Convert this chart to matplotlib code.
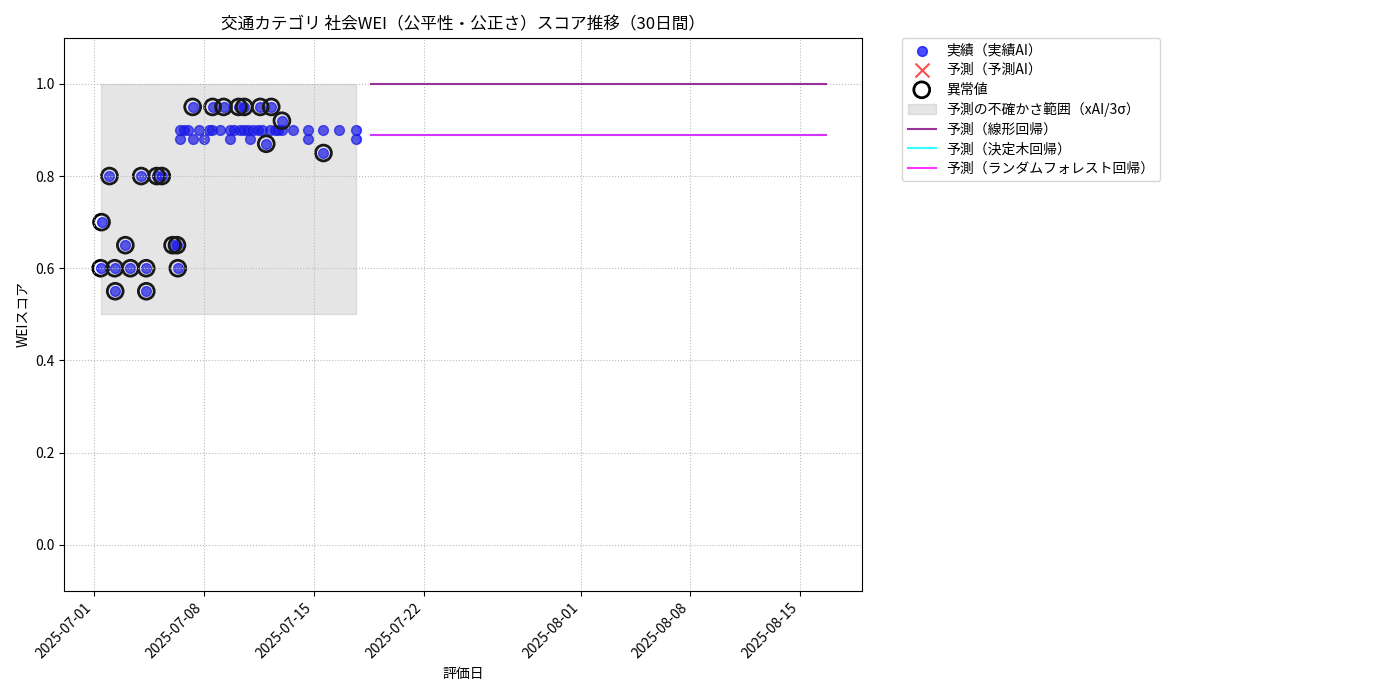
import matplotlib

matplotlib.use("Agg")
import matplotlib.pyplot as plt
import pandas as pd

plt.rcParams["font.family"] = ["Noto Sans CJK JP", "DejaVu Sans"]

# actual scores (actual AI), 1 = flagged as anomaly
actual_dates = [
    "2025-07-01 09:30", "2025-07-01 10:50", "2025-07-01 23:00", "2025-07-02 07:00",
    "2025-07-02 07:45", "2025-07-02 23:15", "2025-07-03 07:00", "2025-07-03 23:30",
    "2025-07-04 07:10", "2025-07-04 07:20", "2025-07-04 23:15", "2025-07-05 07:00",
    "2025-07-05 23:30", "2025-07-06 06:15", "2025-07-06 07:30", "2025-07-06 11:15",
    "2025-07-06 11:15", "2025-07-06 16:30", "2025-07-06 22:30", "2025-07-07 06:15",
    "2025-07-07 06:45", "2025-07-07 15:20", "2025-07-07 23:00", "2025-07-08 06:45",
    "2025-07-08 11:45", "2025-07-08 12:45", "2025-07-08 23:30", "2025-07-09 05:30",
    "2025-07-09 14:40", "2025-07-09 14:40", "2025-07-09 21:00", "2025-07-10 04:30",
    "2025-07-10 07:00", "2025-07-10 13:10", "2025-07-10 13:10", "2025-07-10 19:40",
    "2025-07-10 22:20", "2025-07-11 02:25", "2025-07-11 09:35", "2025-07-11 13:40",
    "2025-07-11 16:05", "2025-07-11 22:50", "2025-07-12 04:50", "2025-07-12 06:30",
    "2025-07-12 12:30", "2025-07-12 17:30", "2025-07-12 22:50", "2025-07-12 22:50",
    "2025-07-13 15:35", "2025-07-14 15:20", "2025-07-14 15:20", "2025-07-15 14:25",
    "2025-07-15 14:25", "2025-07-16 14:25", "2025-07-17 15:35", "2025-07-17 15:35",
]
actual_scores = [
    0.60, 0.70, 0.80, 0.60,
    0.55, 0.65, 0.60, 0.80,
    0.60, 0.55, 0.80, 0.80,
    0.65, 0.65, 0.60, 0.90,
    0.88, 0.90, 0.90, 0.95,
    0.88, 0.90, 0.88, 0.90,
    0.90, 0.95, 0.90, 0.95,
    0.90, 0.88, 0.90, 0.95,
    0.90, 0.90, 0.95, 0.90,
    0.88, 0.90, 0.90, 0.95,
    0.90, 0.87, 0.90, 0.95,
    0.90, 0.90, 0.90, 0.92,
    0.90, 0.90, 0.88, 0.90,
    0.85, 0.90, 0.90, 0.88,
]
anomaly_flags = [
    1, 1, 1, 1,
    1, 1, 1, 1,
    1, 1, 1, 1,
    1, 1, 1, 0,
    0, 0, 0, 1,
    0, 0, 0, 0,
    0, 1, 0, 1,
    0, 0, 0, 1,
    0, 0, 1, 0,
    0, 0, 0, 1,
    0, 1, 0, 1,
    0, 0, 0, 1,
    0, 0, 0, 0,
    1, 0, 0, 0,
]

# uncertainty band over the observed period
band_dates = ["2025-07-01 09:30", "2025-07-17 15:35"]
band_low = [0.50, 0.50]
band_high = [1.00, 1.00]

# model forecasts
forecast_dates = ["2025-07-18 15:35", "2025-08-16 15:35"]
linear_pred = [1.00, 1.00]
tree_pred = [0.89, 0.89]
forest_pred = [0.89, 0.89]

dates = pd.to_datetime(actual_dates)
band_x = pd.to_datetime(band_dates)
fc_x = pd.to_datetime(forecast_dates)
anom_x = [d for d, f in zip(dates, anomaly_flags) if f]
anom_y = [s for s, f in zip(actual_scores, anomaly_flags) if f]

fig, ax = plt.subplots(figsize=(14, 7), dpi=100)
ax.scatter(dates, actual_scores, color="blue", alpha=0.7, s=50, label="実績（実績AI）")
ax.scatter([], [], color="red", marker="x", alpha=0.7, s=100, label="予測（予測AI）")
ax.scatter(anom_x, anom_y, facecolors="none", edgecolors="black", s=130, linewidths=2, label="異常値")
ax.fill_between(band_x, band_low, band_high, color="gray", alpha=0.2, label="予測の不確かさ範囲（xAI/3σ）")
ax.plot(fc_x, linear_pred, color="purple", alpha=0.8, label="予測（線形回帰）")
ax.plot(fc_x, tree_pred, color="cyan", alpha=0.8, label="予測（決定木回帰）")
ax.plot(fc_x, forest_pred, color="magenta", alpha=0.8, label="予測（ランダムフォレスト回帰）")

ax.set_ylim(-0.1, 1.1)
ax.set_title("交通カテゴリ 社会WEI（公平性・公正さ）スコア推移（30日間）", fontsize=12)
ax.set_xlabel("評価日")
ax.set_ylabel("WEIスコア")
ax.grid(True, linestyle=":", color="#bbbbbb", linewidth=0.8)
plt.setp(ax.get_xticklabels(), rotation=45, ha="right")
ax.legend(loc="upper left", bbox_to_anchor=(1.05, 1), borderaxespad=0.0, labelspacing=0.4)

fig.subplots_adjust(left=0.046, right=0.616, top=0.946, bottom=0.156)
fig.savefig("out.png")
plt.close(fig)
